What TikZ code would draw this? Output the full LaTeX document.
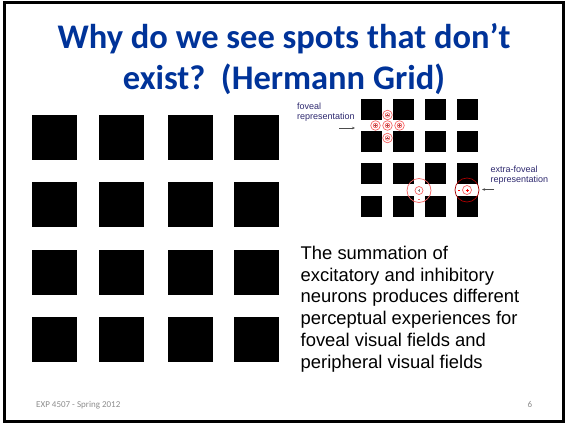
\documentclass[tikz,border=0pt]{standalone}
\usepackage{fontspec}
\setmainfont{Liberation Sans}
\newfontfamily\calibri{Carlito}
\usetikzlibrary{arrows.meta}
\definecolor{titleblue}{RGB}{0,51,153}
\definecolor{labelink}{RGB}{45,40,110}
\definecolor{fieldA}{RGB}{245,100,100}
\definecolor{fieldB}{RGB}{170,0,0}
\definecolor{footgray}{RGB}{140,140,140}
\tikzset{
  bigsq/.style={fill=black},
  smallsq/.style={fill=black},
  field/.style={draw=#1, line width=0.7pt},
  sign/.style={draw=#1, line width=0.5pt},
  title/.style={
    font=\calibri\bfseries\fontsize{34.5}{40.5}\selectfont,
    text=titleblue,
    align=center,
    inner sep=0pt
  },
  body/.style={
    font=\fontsize{18.4}{21.7}\selectfont,
    align=left,
    inner sep=0pt
  },
  tag/.style={
    font=\fontsize{9}{10.3}\selectfont,
    text=labelink,
    align=left,
    inner sep=0pt
  },
  foot/.style={font=\calibri\fontsize{9}{10}\selectfont, text=footgray, inner sep=0pt},
  arrow/.style={-{Stealth[length=3pt,width=2.5pt]}, line width=0.5pt, draw=black!70},
}

\begin{document}
\begin{tikzpicture}[x=1pt,y=-1pt]

\useasboundingbox (0,0) rectangle (566,424);
\draw[line width=3pt] (4,2.5) rectangle (563.5,421.5);

% base anchor sits on the last line
\node[title, anchor=base] (title) at (284,89) {Why do we see spots that don’t\\exist?\ \ (Hermann Grid)};

% Hermann grid
\foreach \x in {32,99,168,234}
  \foreach \y in {115,182,250,317}
    \fill[bigsq] (\x,\y) rectangle ++(45,45);

% receptive field sketch
\foreach \x in {361,393,425,457}
  \foreach \y in {99,131,163,196}
    \fill[smallsq] (\x,\y) rectangle ++(21,21);

% foveal fields
\foreach \dx/\dy in {0/0,-12/0,12/0,0/-10.5,0/12.5} {
  \draw[field=fieldA] (387.5+\dx,125.5+\dy) circle (4.8);
  \draw[field=fieldA] (387.5+\dx,125.5+\dy) circle (2.3);
  \draw[sign=fieldA!70!black] (386.3+\dx,125.5+\dy) -- ++(2.4,0) (387.5+\dx,124.3+\dy) -- ++(0,2.4);
}

% extra-foveal fields
\draw[field=fieldA] (419,190.5) circle (12);
\draw[field=fieldA] (419,190.5) circle (4);
\draw[sign=black!50] (417.8,190.5) -- ++(2.4,0) (419,189.3) -- ++(0,2.4);
\draw[sign=fieldA] (418,199) -- ++(2,0);

\draw[field=fieldB] (467,190) circle (12);
\draw[field=fieldA] (467,190) circle (4.5);
\draw[sign=red] (465.5,190) -- ++(3,0) (467,188.5) -- ++(0,3);
\draw[sign=red] (458,190) -- ++(2,0);

\node[tag, anchor=base west] (fovtag) at (297,119.3) {foveal\\representation};
\coordinate (fovtail) at (339,128);
\coordinate (fovtip) at (355,128);
\draw[arrow] (fovtail) -- (fovtip);

\node[tag, anchor=base west] (exttag) at (490.5,182.5) {extra-foveal\\representation};
\coordinate (exttail) at (494,189.5);
\coordinate (exttip) at (482,189.5);
\draw[arrow] (exttail) -- (exttip);

\node[body, anchor=base west] (summary) at (300.5,368) {The summation of\\
excitatory and inhibitory\\
neurons produces different\\
perceptual experiences for\\
foveal visual fields and\\
peripheral visual fields};

\node[foot, anchor=base west] (course) at (36,407) {EXP 4507 - Spring 2012};
\node[foot, anchor=base west] (page) at (527.5,407) {6};

\end{tikzpicture}
\end{document}
